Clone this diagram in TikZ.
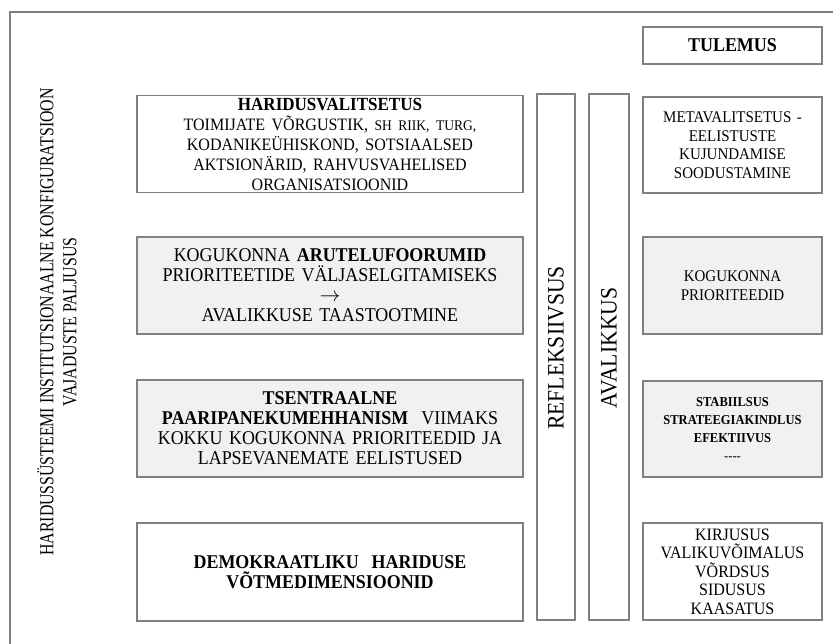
\documentclass[tikz,border=0pt]{standalone}
\usepackage{fontspec}
\setmainfont[FakeStretch=0.92]{Liberation Serif}
\newfontfamily\narrowserif[FakeStretch=0.8]{Liberation Serif}
\usepackage{tikz}
\usetikzlibrary{positioning}
\definecolor{framegray}{RGB}{128,128,128}
\definecolor{shadefill}{RGB}{241,241,241}

\begin{document}
\begin{tikzpicture}[
    x=1pt, y=-1pt,
    box/.style={draw=framegray, line width=1.3pt, inner sep=0pt, align=center},
    leftbox/.style={box, minimum width=386pt, minimum height=97pt, text width=380pt, font=\fontsize{19.5}{20}\selectfont},
    outbox/.style={box, minimum width=179pt, minimum height=96pt, text width=176pt, font=\fontsize{16.3}{18.5}\selectfont},
    sidebar/.style={box, rotate=90, minimum width=526pt, font=\fontsize{23.5}{24}\selectfont}
]
    \clip (0,0) rectangle (833,643);
    % Outer frame (runs off the page to the right and bottom)
    \draw[framegray, line width=1.3pt] (10,12) rectangle (870,680);

    % Side caption
    \node[rotate=90, align=center, font=\narrowserif\fontsize{19.8}{23}\selectfont] (config) at (57,322)
        {HARIDUSSÜSTEEMI INSTITUTSIONAALNE KONFIGURATSIOON\\VAJADUSTE PALJUSUS};

    % Left column
    \node[leftbox] (valitsetus) at (330,144)
        {\fontsize{18.5}{20}\selectfont\textbf{HARIDUSVALITSETUS}\\
         \fontsize{17.4}{20}\selectfont TOIMIJATE VÕRGUSTIK, {\fontsize{14.7}{20}\selectfont SH RIIK, TURG,}\\
         KODANIKEÜHISKOND, SOTSIAALSED\\
         AKTSIONÄRID, RAHVUSVAHELISED\\
         ORGANISATSIOONID};
    \node[leftbox, fill=shadefill] (foorum) at (330,285.5)
        {KOGUKONNA \textbf{ARUTELUFOORUMID}\\
         PRIORITEETIDE VÄLJASELGITAMISEKS\\
         $\rightarrow$\\
         AVALIKKUSE TAASTOOTMINE};
    \node[leftbox, fill=shadefill] (mehhanism) at (330,428.5)
        {\textbf{TSENTRAALNE}\\
         \textbf{PAARIPANEKUMEHHANISM}\ \ VIIMAKS\\
         KOKKU KOGUKONNA PRIORITEEDID JA\\
         LAPSEVANEMATE EELISTUSED};
    \node[leftbox, minimum height=98pt] (dimensioonid) at (330,572)
        {\textbf{DEMOKRAATLIKU\ \ HARIDUSE}\\
         \textbf{VÕTMEDIMENSIOONID}};

    % Vertical bars
    \node[sidebar, minimum height=38pt] (refleks) at (556,357) {\hspace*{18pt}REFLEKSIIVSUS};
    \node[sidebar, minimum height=40pt] (avalik) at (609,357) {\hspace*{18pt}AVALIKKUS};

    % Right column
    \node[box, minimum width=179pt, minimum height=37pt, font=\fontsize{19.5}{20}\selectfont\bfseries] (tulemus) at (732.5,45.5) {TULEMUS};
    \node[outbox] (meta) at (732.5,145)
        {METAVALITSETUS -\\EELISTUSTE\\KUJUNDAMISE\\SOODUSTAMINE};
    \node[outbox, minimum height=97pt, fill=shadefill] (prioriteedid) at (732.5,285.5)
        {KOGUKONNA\\PRIORITEEDID};
    \node[outbox, fill=shadefill, font=\fontsize{13.6}{18}\selectfont\bfseries] (stabiilsus) at (732.5,429)
        {STABIILSUS\\STRATEEGIAKINDLUS\\EFEKTIIVUS\\{\mdseries -{}-{}-{}-}};
    \node[outbox, minimum height=97pt, font=\fontsize{17.4}{18.5}\selectfont] (kirjusus) at (732.5,571.5)
        {KIRJUSUS\\VALIKUVÕIMALUS\\VÕRDSUS\\SIDUSUS\\KAASATUS};
\end{tikzpicture}
\end{document}
